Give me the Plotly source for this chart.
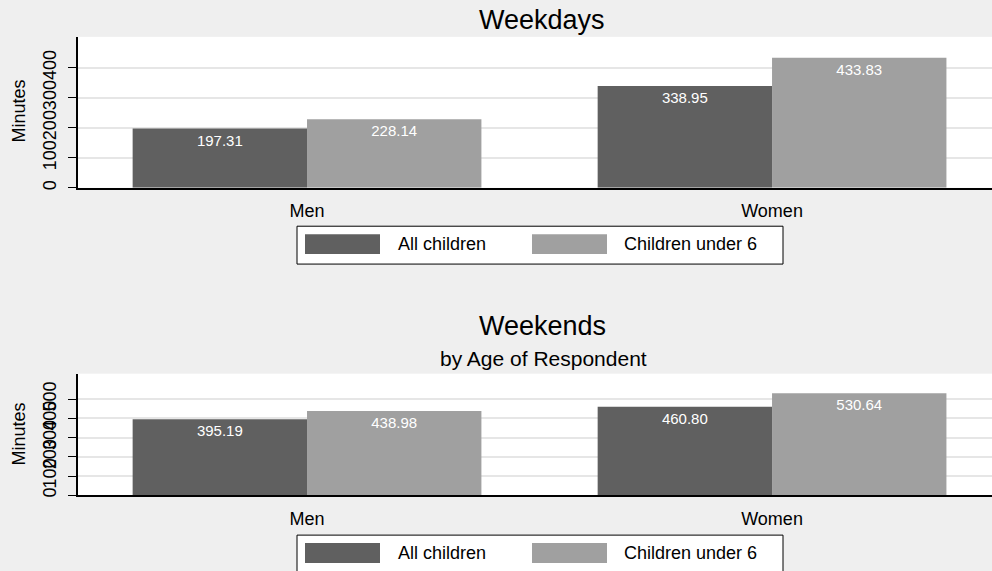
import plotly.graph_objects as go
from plotly.subplots import make_subplots

groups = ["Men", "Women"]
series_names = ["All children", "Children under 6"]
weekday_all = [197.31, 338.95]
weekday_u6 = [228.14, 433.83]
weekend_all = [395.19, 460.80]
weekend_u6 = [438.98, 530.64]
weekday_ticks = [0, 100, 200, 300, 400]
weekend_ticks = [0, 100, 200, 300, 400, 500]

W, H = 992, 571
DARK = "#606060"
LIGHT = "#a0a0a0"
BG = "#efefef"
FONT = "Liberation Sans, Arial, sans-serif"


def px(x):
    return x / W


def py(y):
    return 1 - y / H


fig = make_subplots(rows=2, cols=1)

for row, (a, b) in enumerate([(weekday_all, weekday_u6), (weekend_all, weekend_u6)], start=1):
    for vals, name, col in [(a, series_names[0], DARK), (b, series_names[1], LIGHT)]:
        fig.add_trace(
            go.Bar(
                x=groups, y=vals, name=name, marker=dict(color=col, line=dict(width=0)),
                texttemplate="%{y:.2f}", textposition="inside", insidetextanchor="end",
                textfont=dict(color="white", size=15, family=FONT), textangle=0,
                showlegend=False, cliponaxis=False,
            ),
            row=row, col=1,
        )

xr = [-0.4925, 1.473]
common_x = dict(range=xr, showline=True, linecolor="black", linewidth=1.5, ticks="",
                showgrid=False, tickfont=dict(size=18, family=FONT, color="black"),
                ticklabelstandoff=6, zeroline=False, fixedrange=True)
common_y = dict(showline=True, linecolor="black", linewidth=1.5, ticks="outside", ticklen=8,
                tickcolor="black", tickwidth=1, tickangle=-90, showgrid=True,
                gridcolor="#e6e6e6", gridwidth=1.5, zeroline=False,
                tickfont=dict(size=18, family=FONT, color="black"), ticklabelstandoff=5,
                fixedrange=True)

fig.update_xaxes(**common_x, domain=[px(78), 1.0])
fig.update_yaxes(**common_y)
fig.update_yaxes(range=[0, 503], tickvals=weekday_ticks, domain=[py(188.5), py(37)], row=1, col=1)
fig.update_yaxes(range=[0, 633], tickvals=weekend_ticks, domain=[py(497), py(375)], row=2, col=1)

annotations = [
    dict(text="Weekdays", x=px(542), y=py(20), font=dict(size=27)),
    dict(text="Weekends", x=px(542), y=py(327), font=dict(size=27)),
    dict(text="by Age of Respondent", x=px(543), y=py(360), font=dict(size=21)),
    dict(text="Minutes", x=px(19), y=py(112), font=dict(size=18), textangle=-90),
    dict(text="Minutes", x=px(19), y=py(436), font=dict(size=18), textangle=-90),
]
shapes = []
for top in [227, 537]:
    shapes.append(dict(type="rect", xref="paper", yref="paper", x0=px(297), x1=px(783),
                       y0=py(top + 38), y1=py(top), fillcolor="white",
                       line=dict(color="black", width=1)))
    for x0, x1, col in [(305, 380, DARK), (532, 607, LIGHT)]:
        shapes.append(dict(type="rect", xref="paper", yref="paper", x0=px(x0), x1=px(x1),
                           y0=py(top + 28), y1=py(top + 8), fillcolor=col, line=dict(width=0)))
    annotations.append(dict(text=series_names[0], x=px(396), y=py(top + 18), xanchor="left",
                            font=dict(size=18)))
    annotations.append(dict(text=series_names[1], x=px(622), y=py(top + 18), xanchor="left",
                            font=dict(size=18)))

for a in annotations:
    a.setdefault("xanchor", "center")
    a.update(xref="paper", yref="paper", showarrow=False, yanchor="middle")
    a["font"].update(family=FONT, color="black")

fig.update_layout(
    width=W, height=H, margin=dict(l=0, r=0, t=0, b=0),
    paper_bgcolor=BG, plot_bgcolor="white",
    barmode="group", bargap=0.25, bargroupgap=0,
    showlegend=False, annotations=annotations, shapes=shapes,
    font=dict(family=FONT, color="black"),
)

fig.write_html("out.html", config={"displayModeBar": False},
               post_script="document.body.style.margin='0';document.body.style.overflow='hidden';")
